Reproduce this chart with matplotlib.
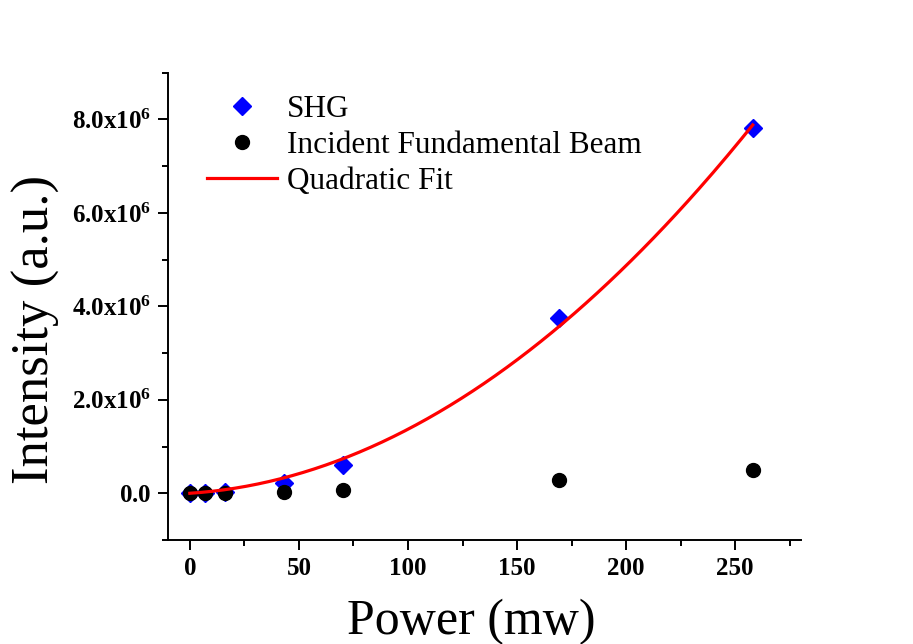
import numpy as np
import matplotlib
matplotlib.use('Agg')
import matplotlib.pyplot as plt
from matplotlib.ticker import FuncFormatter, MultipleLocator

plt.rcParams['font.family'] = ['Liberation Serif', 'DejaVu Serif']
plt.rcParams['mathtext.fontset'] = 'custom'
plt.rcParams['mathtext.rm'] = 'Liberation Serif'
plt.rcParams['mathtext.bf'] = 'Liberation Serif:bold'

# measured powers (mW) and detected intensities (a.u.)
power = [0, 7, 16, 43, 70, 169, 258]
shg = [0.0, 0.005e6, 0.02e6, 0.21e6, 0.61e6, 3.76e6, 7.81e6]
fundamental = [0.0, 0.0, 0.0, 0.03e6, 0.06e6, 0.28e6, 0.50e6]

# quadratic fit through the origin: I = a*P + b*P^2
p = np.array(power, dtype=float)
A = np.column_stack([p, p ** 2])
a, b = np.linalg.lstsq(A, np.array(shg), rcond=None)[0]
xfit = np.linspace(0, p[-1], 200)
yfit = a * xfit + b * xfit ** 2

fig = plt.figure(figsize=(9.13, 6.44), dpi=100)
ax = fig.add_axes([0.184, 0.1615, 0.693, 0.7255])

ax.plot(power, shg, linestyle='none', marker='D', ms=9, color='#0000ff', label='SHG', zorder=3)
ax.plot(power, fundamental, linestyle='none', marker='o', ms=10, color='black',
        label='Incident Fundamental Beam', zorder=4)
ax.plot(xfit, yfit, color='red', lw=2.3, label='Quadratic Fit', zorder=5)

ax.set_xlim(-10, 280)
ax.set_ylim(-1e6, 9e6)
ax.xaxis.set_major_locator(MultipleLocator(50))
ax.xaxis.set_minor_locator(MultipleLocator(25))
ax.yaxis.set_major_locator(MultipleLocator(2e6))
ax.yaxis.set_minor_locator(MultipleLocator(1e6))

def sci(y, _):
    if abs(y) < 1:
        return r'$\mathbf{0.0}$'
    return r'$\mathbf{%.1fx10^{6}}$' % (y / 1e6)

ax.yaxis.set_major_formatter(FuncFormatter(sci))
ax.xaxis.set_major_formatter(FuncFormatter(lambda x, _: '%d' % x))

for s in ['top', 'right']:
    ax.spines[s].set_visible(False)
for s in ['left', 'bottom']:
    ax.spines[s].set_linewidth(1.4)

ax.tick_params(which='major', direction='out', length=7, width=1.4, labelsize=18, pad=5)
ax.tick_params(which='minor', direction='out', length=4.5, width=1.4)
for lbl in ax.get_xticklabels():
    lbl.set_fontweight('bold')

fig.text(471 / 913, 1 - 634 / 644, 'Power (mw)', fontsize=36, ha='center', va='baseline')
fig.text(36 / 913, 1 - 329 / 644, 'Intensity (a.u.)', fontsize=38, rotation=90,
         ha='center', va='center')

ax.legend(loc='upper left', bbox_to_anchor=(207 / 913, 1 - 95 / 644),
          bbox_transform=fig.transFigure, frameon=False, fontsize=22.5,
          borderpad=0, borderaxespad=0, handlelength=2.25, handletextpad=0.3,
          labelspacing=0.23)

fig.savefig('out.png', dpi=100)
